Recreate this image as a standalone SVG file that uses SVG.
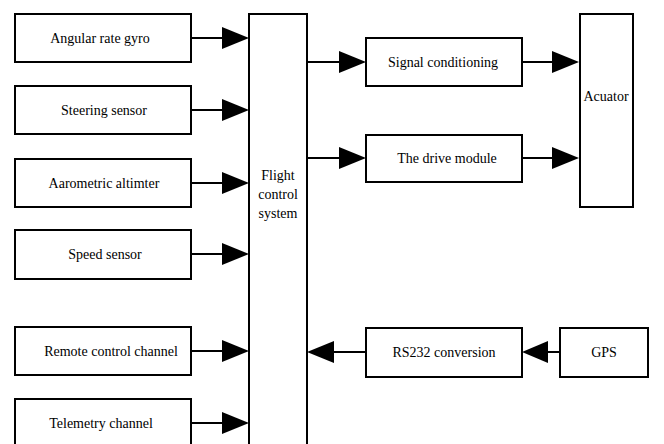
<svg xmlns="http://www.w3.org/2000/svg" width="664" height="444" viewBox="0 0 664 444">
<style>
rect{fill:#fff;stroke:#000;stroke-width:2}
text{font-family:'Liberation Serif','Times New Roman',serif !important;font-size:14px;fill:#000;text-anchor:middle}
.c line{stroke:#000;stroke-width:2}
.c polygon{fill:#000}
</style>
<rect x="0" y="0" width="664" height="444" style="stroke:none"/>
<g id="n-gyro"><rect x="15" y="14" width="176" height="48"/><text style="font-family:'Liberation Serif',serif" x="100" y="43">Angular rate gyro</text></g>
<g id="n-steer"><rect x="15" y="86" width="176" height="48"/><text style="font-family:'Liberation Serif',serif" x="104" y="115">Steering sensor</text></g>
<g id="n-alt"><rect x="15" y="159" width="176" height="48"/><text style="font-family:'Liberation Serif',serif" x="104" y="188">Aarometric altimter</text></g>
<g id="n-speed"><rect x="15" y="230" width="176" height="49"/><text style="font-family:'Liberation Serif',serif" x="105" y="259">Speed sensor</text></g>
<g id="n-remote"><rect x="15" y="327" width="176" height="48"/><text style="font-family:'Liberation Serif',serif" x="111" y="356">Remote control channel</text></g>
<g id="n-tele"><rect x="15" y="399" width="176" height="50"/><text style="font-family:'Liberation Serif',serif" x="101" y="428">Telemetry channel</text></g>
<g id="n-fcs"><rect x="249" y="14" width="58" height="436"/><text style="font-family:'Liberation Serif',serif" x="278" y="180">Flight</text><text style="font-family:'Liberation Serif',serif" x="278" y="199">control</text><text style="font-family:'Liberation Serif',serif" x="278" y="218">system</text></g>
<g id="n-sig"><rect x="366" y="38" width="156" height="48"/><text style="font-family:'Liberation Serif',serif" x="443" y="67">Signal conditioning</text></g>
<g id="n-drive"><rect x="366" y="135" width="156" height="47"/><text style="font-family:'Liberation Serif',serif" x="447" y="163">The drive module</text></g>
<g id="n-act"><rect x="580" y="14" width="53" height="193"/><text style="font-family:'Liberation Serif',serif" x="606" y="101">Acuator</text></g>
<g id="n-rs"><rect x="366" y="328" width="156" height="49"/><text style="font-family:'Liberation Serif',serif" x="444" y="357">RS232 conversion</text></g>
<g id="n-gps"><rect x="560" y="328" width="88" height="49"/><text style="font-family:'Liberation Serif',serif" x="604" y="357">GPS</text></g>
<g class="c" id="connectors">
<line x1="191" y1="38" x2="225" y2="38"/><polygon points="222,27 249,38 222,49"/>
<line x1="191" y1="110" x2="225" y2="110"/><polygon points="222,99 249,110 222,121"/>
<line x1="191" y1="183" x2="225" y2="183"/><polygon points="222,172 249,183 222,194"/>
<line x1="191" y1="254" x2="225" y2="254"/><polygon points="222,243 249,254 222,265"/>
<line x1="191" y1="351" x2="225" y2="351"/><polygon points="222,340 249,351 222,362"/>
<line x1="191" y1="423" x2="225" y2="423"/><polygon points="222,412 249,423 222,434"/>
<line x1="307" y1="62" x2="342" y2="62"/><polygon points="339,51 366,62 339,73"/>
<line x1="307" y1="158" x2="342" y2="158"/><polygon points="339,147 366,158 339,169"/>
<line x1="522" y1="62" x2="555" y2="62"/><polygon points="552,51 579,62 552,73"/>
<line x1="522" y1="158" x2="555" y2="158"/><polygon points="552,147 579,158 552,169"/>
<line x1="560" y1="352" x2="545" y2="352"/><polygon points="548,341 522,352 548,363"/>
<line x1="366" y1="352" x2="330" y2="352"/><polygon points="334,341 307,352 334,363"/>
</g>
</svg>
